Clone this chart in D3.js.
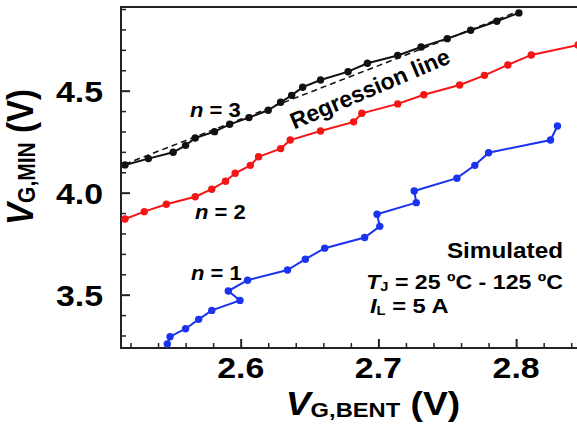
<!DOCTYPE html>
<html>
<head>
<meta charset="utf-8">
<script src="https://cdn.jsdelivr.net/npm/d3@7"></script>
<style>
  body { margin: 0; background: #fff; }
  svg { display: block; font-family: "Liberation Sans", Arial, sans-serif; font-weight: bold; }
</style>
</head>
<body>
<div id="chart"></div>
<script>
// n = 3 (black)
const n3X = [2.516, 2.533, 2.551, 2.560, 2.567, 2.581, 2.592, 2.606, 2.620, 2.629, 2.637,
  2.645, 2.658, 2.678, 2.692, 2.714, 2.731, 2.750, 2.767, 2.786, 2.802];
const n3Y = [4.136, 4.167, 4.198, 4.232, 4.268, 4.299, 4.335, 4.368, 4.404, 4.443, 4.477,
  4.517, 4.552, 4.593, 4.634, 4.672, 4.714, 4.755, 4.796, 4.840, 4.881];
// n = 2 (red)
const n2X = [2.516, 2.530, 2.546, 2.567, 2.579, 2.589, 2.596, 2.607, 2.613, 2.629, 2.636,
  2.658, 2.682, 2.688, 2.714, 2.733, 2.759, 2.777, 2.794, 2.811, 2.845];
const n2Y = [3.871, 3.907, 3.943, 3.980, 4.017, 4.056, 4.095, 4.134, 4.176, 4.216, 4.258,
  4.302, 4.347, 4.389, 4.435, 4.480, 4.528, 4.575, 4.626, 4.675, 4.724];
// n = 1 (blue), order kept as measured (line zig-zags)
const n1X = [2.5467, 2.5487, 2.560, 2.5695, 2.579, 2.5995, 2.591, 2.605, 2.634, 2.647, 2.661,
  2.690, 2.701, 2.699, 2.7275, 2.726, 2.757, 2.770, 2.780, 2.825, 2.830];
const n1Y = [3.258, 3.294, 3.333, 3.379, 3.423, 3.472, 3.518, 3.571, 3.621, 3.674, 3.728,
  3.780, 3.835, 3.894, 3.951, 4.008, 4.071, 4.134, 4.196, 4.258, 4.327];
// regression line for n = 3
const regX = [2.516, 2.802];
const regY = [4.14, 4.89];

const xMajor = [2.6, 2.7, 2.8];
const yMajor = [3.5, 4.0, 4.5];

const width = 577, height = 428;
const plotLeft = 121, plotTop = 7, plotBottom = 348, plotRight = 577;
const stretch = 1.13; // the original figure is a bit wider than tall

const svg = d3.select('#chart').append('svg')
  .attr('width', width)
  .attr('height', height);

const x = d3.scaleLinear().domain([2.5131, 2.8442]).range([plotLeft, plotRight]);
const y = d3.scaleLinear().domain([3.2387, 4.910]).range([plotBottom, plotTop]);

svg.append('defs').append('clipPath').attr('id', 'plot')
  .append('rect').attr('x', plotLeft).attr('y', plotTop)
  .attr('width', plotRight - plotLeft).attr('height', plotBottom - plotTop);

// text placed at (px, py), widened horizontally
function label(px, py, size, anchor, extra) {
  return svg.append('text')
    .attr('transform', 'translate(' + px + ',' + py + ') scale(' + stretch + ',1)' + (extra || ''))
    .attr('text-anchor', anchor)
    .attr('font-size', size);
}

// ticks (inward)
const xMinor = d3.range(2.52, 2.845, 0.02).filter(v => !xMajor.some(m => Math.abs(m - v) < 1e-6));
const yMinor = d3.range(3.3, 4.95, 0.1).filter(v => !yMajor.some(m => Math.abs(m - v) < 1e-6));

svg.append('g')
  .attr('transform', 'translate(0,' + plotBottom + ')')
  .call(d3.axisTop(x).tickValues(xMinor).tickSize(5).tickFormat(''))
  .call(g => g.select('.domain').remove())
  .selectAll('line').attr('stroke', '#222').attr('stroke-width', 1.5);
svg.append('g')
  .attr('transform', 'translate(0,' + plotBottom + ')')
  .call(d3.axisTop(x).tickValues(xMajor).tickSize(9).tickFormat(''))
  .call(g => g.select('.domain').remove())
  .selectAll('line').attr('stroke', '#222').attr('stroke-width', 2);

svg.append('g')
  .attr('transform', 'translate(' + plotLeft + ',0)')
  .call(d3.axisRight(y).tickValues(yMinor).tickSize(5).tickFormat(''))
  .call(g => g.select('.domain').remove())
  .selectAll('line').attr('stroke', '#222').attr('stroke-width', 1.5);
svg.append('g')
  .attr('transform', 'translate(' + plotLeft + ',0)')
  .call(d3.axisRight(y).tickValues(yMajor).tickSize(9).tickFormat(''))
  .call(g => g.select('.domain').remove())
  .selectAll('line').attr('stroke', '#222').attr('stroke-width', 2);

// tick labels
xMajor.forEach(d => label(x(d), 378, 30, 'middle').text(d.toFixed(1)));
yMajor.forEach(d => label(103, y(d) + 11, 30, 'end').text(d.toFixed(1)));

// frame: left, top, bottom
svg.append('path')
  .attr('d', 'M' + plotRight + ',' + plotTop + 'H' + plotLeft + 'V' + plotBottom + 'H' + plotRight)
  .attr('fill', 'none').attr('stroke', '#222').attr('stroke-width', 2);

const plot = svg.append('g').attr('clip-path', 'url(#plot)');

function series(xs, ys, color) {
  const pts = xs.map((v, i) => [v, ys[i]]);
  plot.append('path')
    .attr('d', d3.line().x(d => x(d[0])).y(d => y(d[1]))(pts))
    .attr('fill', 'none').attr('stroke', color).attr('stroke-width', 2);
  plot.append('g').selectAll('circle').data(pts).join('circle')
    .attr('cx', d => x(d[0])).attr('cy', d => y(d[1])).attr('r', 3.7)
    .attr('fill', color);
}

series(n1X, n1Y, '#1a33f0');
series(n2X, n2Y, '#f51515');
series(n3X, n3Y, '#111');

plot.append('path')
  .attr('d', d3.line().x(d => x(d[0])).y(d => y(d[1]))(regX.map((v, i) => [v, regY[i]])))
  .attr('fill', 'none').attr('stroke', '#111').attr('stroke-width', 1.5)
  .attr('stroke-dasharray', '6,4');

// series labels
function nLabel(px, py, num) {
  const t = label(px, py, 19.5, 'start');
  t.append('tspan').attr('font-style', 'italic').text('n');
  t.append('tspan').text(' = ' + num);
}
nLabel(190, 117, 3);
nLabel(195, 219, 2);
nLabel(191, 280, 1);

svg.append('text')
  .attr('transform', 'translate(373,96) rotate(-23)')
  .attr('text-anchor', 'middle')
  .attr('font-size', 23)
  .text('Regression line');

// conditions
label(563, 258, 21.5, 'end').text('Simulated');
const tj = label(563, 289, 20.5, 'end');
tj.append('tspan').attr('font-style', 'italic').text('T');
tj.append('tspan').attr('font-size', 13).attr('dy', 2).text('J');
tj.append('tspan').attr('dy', -2).text(' = 25 \u00baC - 125 \u00baC');
const il = label(370, 313, 21, 'start');
il.append('tspan').attr('font-style', 'italic').text('I');
il.append('tspan').attr('font-size', 13).attr('dy', 2).text('L');
il.append('tspan').attr('dy', -2).text(' = 5 A');

// axis titles
const xt = label(373, 415, 33, 'middle');
xt.append('tspan').attr('font-style', 'italic').text('V');
xt.append('tspan').attr('font-size', 21).attr('dy', 2).text('G,BENT');
xt.append('tspan').attr('dy', -2).text(' (V)');

const yt = label(33, 157, 33, 'middle', ' rotate(-90)');
yt.append('tspan').attr('font-style', 'italic').text('V');
yt.append('tspan').attr('font-size', 21).attr('dy', 2).text('G,MIN');
yt.append('tspan').attr('dy', -2).text(' (V)');
</script>
</body>
</html>
